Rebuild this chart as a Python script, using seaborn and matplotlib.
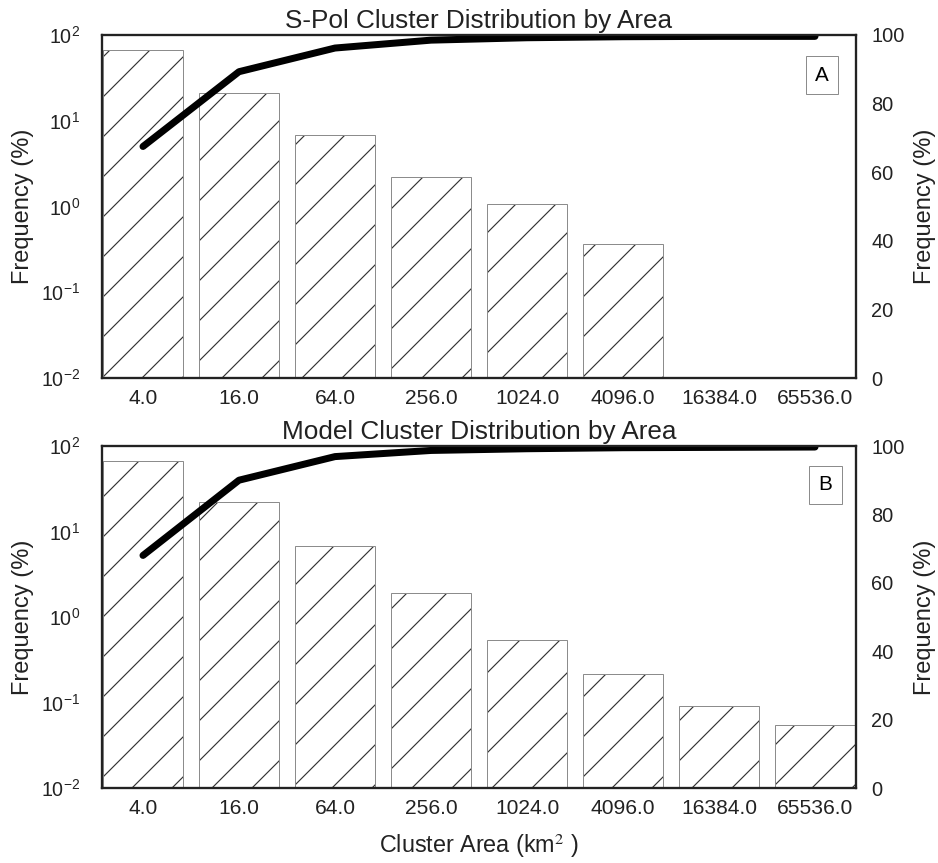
import numpy as np
import pandas as pd
import matplotlib
matplotlib.use("Agg")
import matplotlib.pyplot as plt
import seaborn as sns
from matplotlib.colors import to_rgba

# ---- data ----
areas = ["4.0", "16.0", "64.0", "256.0", "1024.0", "4096.0", "16384.0", "65536.0"]
spol_freq = [66.8, 20.9, 6.8, 2.2, 1.07, 0.37, 0.0, 0.0]
spol_cum = [67.5, 89.3, 96.2, 98.5, 99.2, 99.5, 99.6, 99.6]
model_freq = [67.3, 21.9, 6.8, 1.89, 0.54, 0.217, 0.091, 0.055]
model_cum = [68.0, 90.0, 96.9, 98.7, 99.2, 99.5, 99.6, 99.7]
titles = ["S-Pol Cluster Distribution by Area", "Model Cluster Distribution by Area"]
panel_labels = ["A", "B"]
ylabel = "Frequency (%)"
xlabel = r"Cluster Area (km$^2$ )"
right_ticks = [0, 20, 40, 60, 80, 100]

DPI = 240
sns.set_style("white")
plt.rcParams["font.family"] = ["Liberation Sans", "DejaVu Sans"]
plt.rcParams["hatch.linewidth"] = 0.35
plt.rcParams["mathtext.fontset"] = "stix"
plt.rcParams["axes.unicode_minus"] = False

TXT = "#222222"
W, H = 938, 863
fig = plt.figure(figsize=(W / DPI, H / DPI), dpi=DPI)
ax_top = fig.add_axes([102 / W, 1 - 378 / H, 754 / W, 343 / H])
ax_bot = fig.add_axes([102 / W, 1 - 788 / H, 754 / W, 342 / H])

panels = [
    (ax_top, spol_freq, spol_cum, titles[0], panel_labels[0], (0.955, 0.883)),
    (ax_bot, model_freq, model_cum, titles[1], panel_labels[1], (0.9595, 0.886)),
]

for i, (ax, freq, cum, title, lab, labpos) in enumerate(panels):
    df = pd.DataFrame({"area": areas, "freq": [v if v > 0 else np.nan for v in freq]})
    ax.set_yscale("log")
    sns.barplot(data=df, x="area", y="freq", order=areas, ax=ax,
                color="white", saturation=1, edgecolor="#8c8c8c",
                linewidth=0.3, width=0.84, hatch="//", errorbar=None)
    for p in ax.patches:
        p._hatch_color = to_rgba("#333333")
    ax.set_ylim(0.01, 100)

    ax2 = ax.twinx()
    sns.lineplot(x=np.arange(len(areas)), y=cum, ax=ax2, color="black",
                 linewidth=2.1, solid_capstyle="round")
    ax2.set_ylim(0, 100)
    ax2.set_yticks(right_ticks)
    ax2.grid(False)
    ax.grid(False)
    ax.set_xlim(-0.427, 7.427)
    ax2.set_xlim(-0.427, 7.427)

    for a in (ax, ax2):
        for s in a.spines.values():
            s.set_linewidth(0.65)
            s.set_color(TXT)
            s.set_visible(True)

    ax.tick_params(axis="x", length=0, pad=3.4, labelsize=6.3, colors=TXT)
    ax.tick_params(axis="y", which="both", length=0, pad=6.6, labelsize=5.9, colors=TXT)
    ax2.tick_params(axis="y", length=0, pad=4.6, labelsize=6.0, colors=TXT)

    ax.set_ylabel(ylabel, fontsize=7.1, color=TXT, labelpad=2.0)
    ax2.set_ylabel(ylabel, fontsize=7.1, color=TXT, labelpad=2.7)
    ax.set_title(title, fontsize=7.85, color=TXT, pad=2.0)
    if i == 1:
        ax.set_xlabel(xlabel, fontsize=7.0, color=TXT, labelpad=4.0)
    else:
        ax.set_xlabel("")

    ax2.text(labpos[0], labpos[1], lab, transform=ax2.transAxes, ha="center",
             va="center", fontsize=6.2, color="black",
             bbox=dict(boxstyle="square,pad=0.45", facecolor="white",
                       edgecolor="#8c8c8c", linewidth=0.3))

fig.savefig("out.png", dpi=DPI)
